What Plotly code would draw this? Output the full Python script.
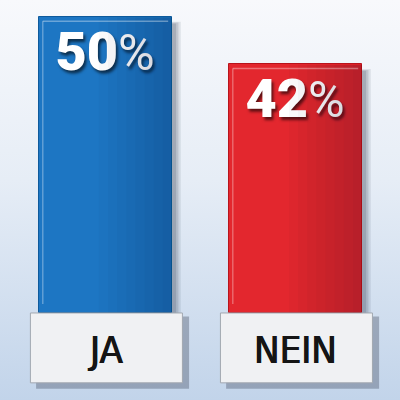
import base64
import plotly.graph_objects as go

categories = ["JA", "NEIN"]
values = [50, 42]
bar_colors = ["#1d76c3", "#e3272e"]
edge_colors = ["#0e5a9c", "#b8141c"]

BAR_W = 0.70
BOX_L, BOX_R = -0.395, 0.405
BOX_BOTTOM = -11.8

svg = ("<svg xmlns='http://www.w3.org/2000/svg' width='400' height='400' preserveAspectRatio='none'>"
       "<defs><linearGradient id='g' x1='0' y1='0' x2='0' y2='1'>"
       "<stop offset='0' stop-color='#f8f9fc'/><stop offset='0.45' stop-color='#e6edf6'/>"
       "<stop offset='1' stop-color='#c2d4ea'/></linearGradient></defs>"
       "<rect width='400' height='400' fill='url(#g)'/></svg>")
bg_uri = "data:image/svg+xml;base64," + base64.b64encode(svg.encode()).decode()

fig = go.Figure()
fig.add_trace(go.Bar(
    x=categories, y=values, width=BAR_W,
    marker=dict(color=bar_colors, line=dict(color=edge_colors, width=1)),
    texttemplate="%{y}<span style='font-size:50px;font-weight:400'>%</span>",
    textposition="inside", insidetextanchor="end",
    textfont=dict(family="Roboto, Liberation Sans, sans-serif", size=54, weight=900,
                  color="white", shadow="2px 3px 3px rgba(0,0,0,0.6)"),
    constraintext="none",
    hoverinfo="skip",
))

shapes = []
annotations = []
N_STEPS = 8
for i, (cat, v) in enumerate(zip(categories, values)):
    left = i - BAR_W / 2
    # soft bar shadow
    for k, op in enumerate([0.12, 0.16, 0.2]):
        d = 0.012 * (3 - k)
        shapes.append(dict(type="rect", xref="x", yref="y", layer="below",
                           x0=left + 0.02, x1=i + BAR_W / 2 + 0.01 + d,
                           y0=0, y1=v - 0.8 - 0.15 * k,
                           fillcolor=f"rgba(60,70,90,{op})", line=dict(width=0)))
    # soft horizontal shading: darker towards the right edge
    for s in range(N_STEPS):
        frac = 0.45 + 0.55 * s / N_STEPS
        shapes.append(dict(type="rect", xref="x", yref="y", layer="above",
                           x0=left + frac * BAR_W, x1=i + BAR_W / 2 - 0.003,
                           y0=0.05, y1=v - 0.05,
                           fillcolor="rgba(0,0,40,0.022)", line=dict(width=0)))
    # inner highlight lines
    shapes.append(dict(type="line", xref="x", yref="y", layer="above",
                       x0=left + 0.02, x1=i + BAR_W / 2 - 0.02,
                       y0=v - 0.7, y1=v - 0.7,
                       line=dict(color="rgba(255,255,255,0.35)", width=1.5)))
    shapes.append(dict(type="line", xref="x", yref="y", layer="above",
                       x0=left + 0.02, x1=left + 0.02,
                       y0=1.5, y1=v - 0.7,
                       line=dict(color="rgba(255,255,255,0.3)", width=1.5)))
    # label box shadow
    shapes.append(dict(type="rect", xref="x", yref="y", layer="above",
                       x0=i + BOX_L + 0.03, x1=i + BOX_R + 0.035,
                       y0=BOX_BOTTOM - 1.0, y1=-0.6,
                       fillcolor="rgba(60,70,90,0.35)", line=dict(width=0)))
    # label box
    shapes.append(dict(type="rect", xref="x", yref="y", layer="above",
                       x0=i + BOX_L, x1=i + BOX_R, y0=BOX_BOTTOM, y1=0,
                       fillcolor="#f0f1f3", line=dict(color="#a2a8b0", width=1)))
    annotations.append(dict(x=i, y=BOX_BOTTOM / 2 - 0.4, xref="x", yref="y",
                            text=cat, showarrow=False,
                            font=dict(family="DejaVu Sans Condensed, sans-serif",
                                      size=38, color="#151515", weight=400,
                                      shadow="0.6px 0 0 #151515, -0.4px 0 0 #151515")))

fig.update_layout(
    width=400, height=400,
    margin=dict(l=0, r=0, t=0, b=0),
    paper_bgcolor="#e6edf6", plot_bgcolor="rgba(0,0,0,0)",
    showlegend=False,
    images=[dict(source=bg_uri, xref="paper", yref="paper", x=0, y=1,
                 sizex=1, sizey=1, sizing="stretch", layer="below")],
    shapes=shapes, annotations=annotations,
    xaxis=dict(range=[-0.555, 1.55], visible=False, type="category"),
    yaxis=dict(range=[-14.7, 52.87], visible=False),
    bargap=0,
)

fig.write_html("out.html", config={"displayModeBar": False},
               post_script="document.body.style.margin='0';document.body.style.overflow='hidden';")
